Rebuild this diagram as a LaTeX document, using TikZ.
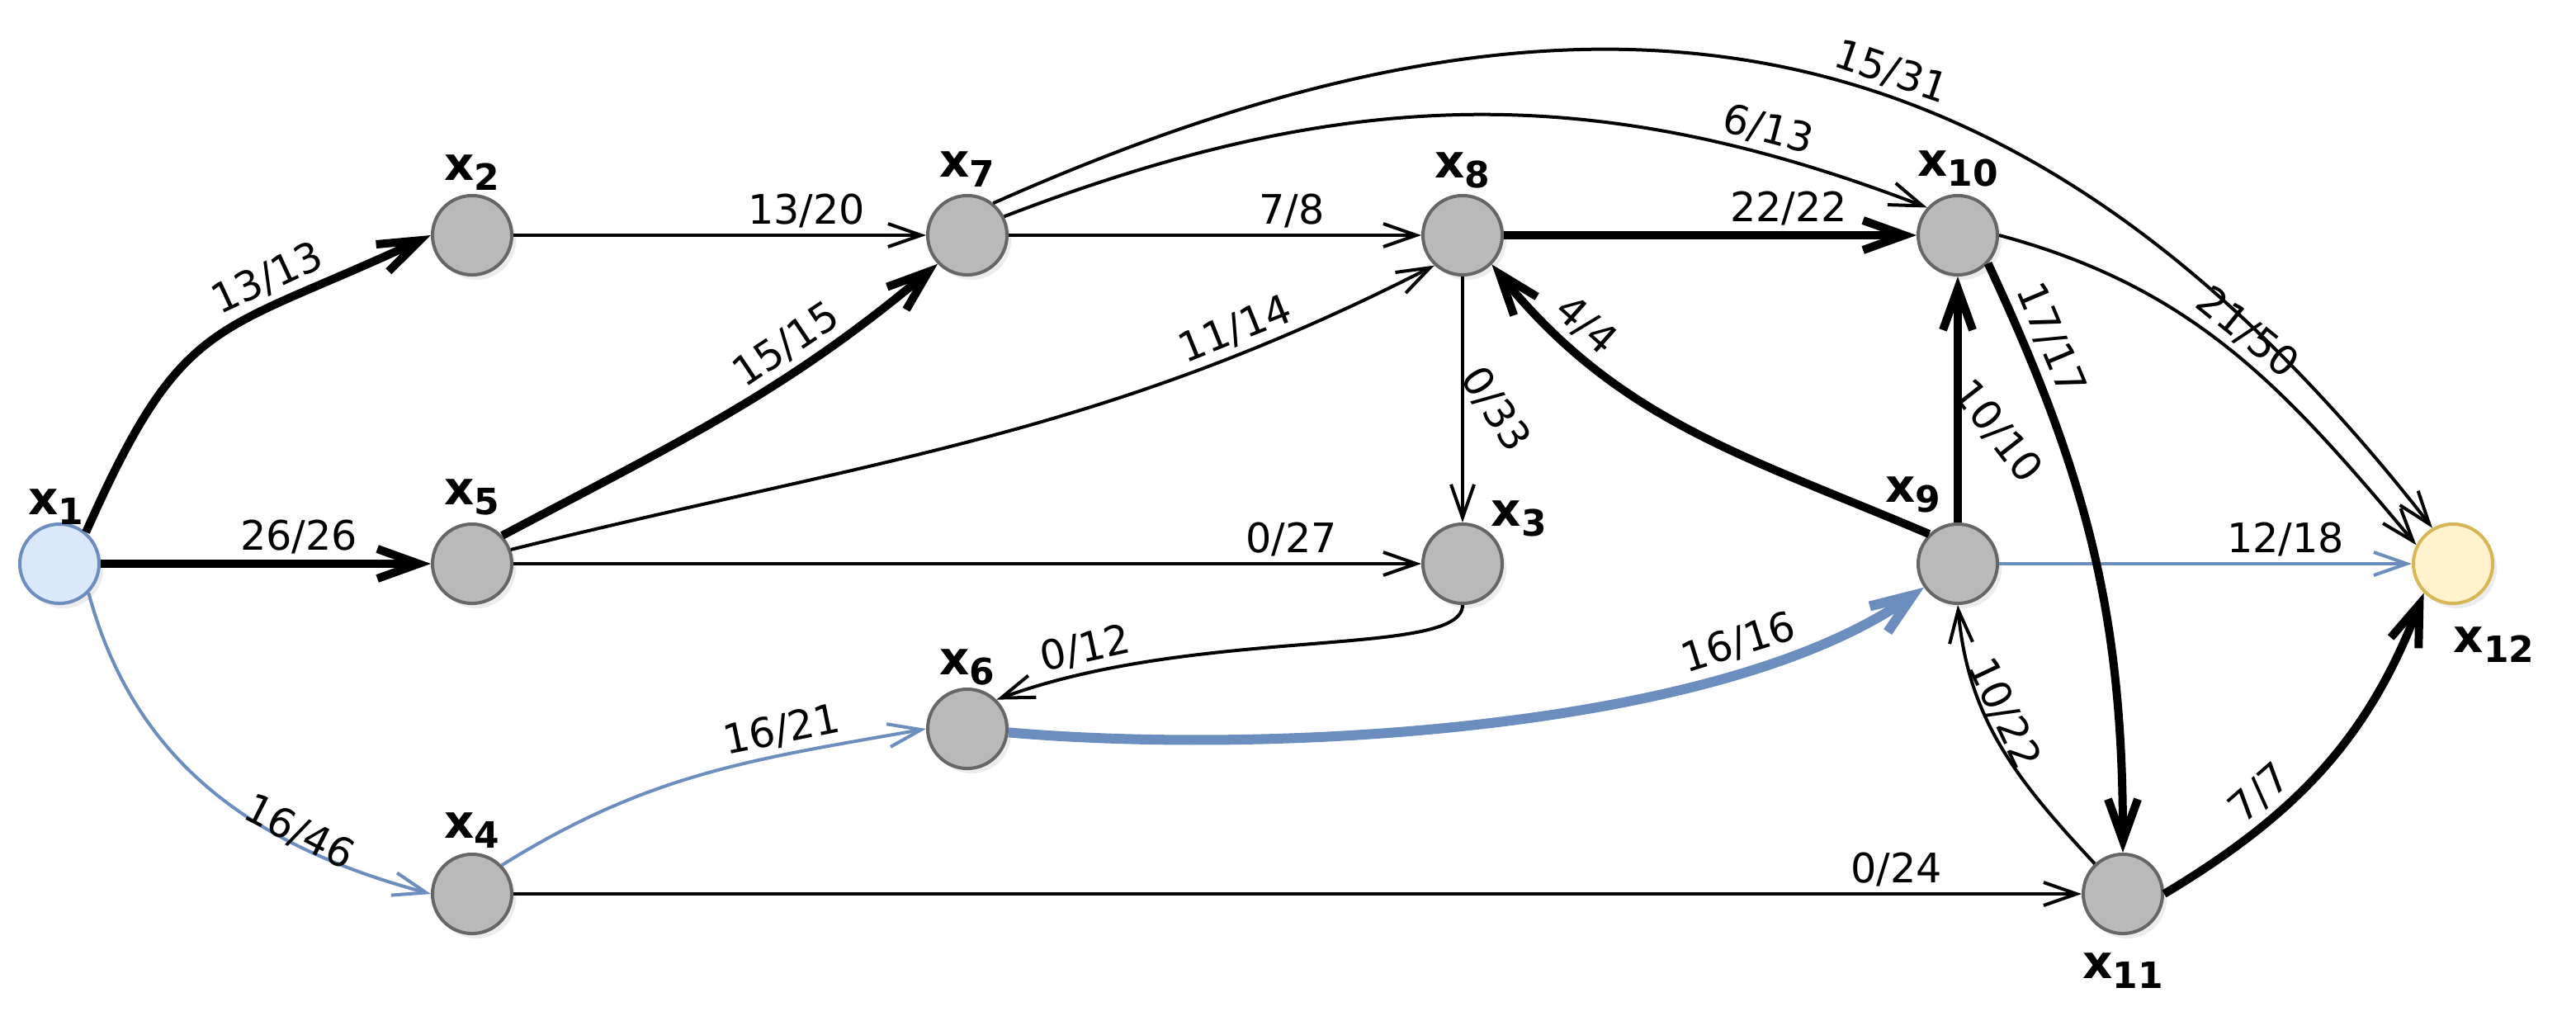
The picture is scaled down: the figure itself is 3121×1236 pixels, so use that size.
\documentclass[tikz,border=0pt]{standalone}
\usepackage{fontspec}
\setmainfont{DejaVu Sans}
\usetikzlibrary{arrows.meta,shadows}
\definecolor{ndfill}{RGB}{185,185,185}
\definecolor{nddraw}{RGB}{102,102,102}
\definecolor{srcfill}{RGB}{218,232,252}
\definecolor{srcdraw}{RGB}{108,142,191}
\definecolor{snkfill}{RGB}{255,242,204}
\definecolor{snkdraw}{RGB}{214,182,86}
\definecolor{flowblue}{RGB}{108,142,191}
\newcommand\xsub[1]{{\fontsize{16}{18}\selectfont\bfseries x}\raisebox{-0.12cm}{\fontsize{12.5}{14}\selectfont\bfseries #1}}
\begin{document}
\begin{tikzpicture}[x=0.01cm,y=0.01cm,
 nd/.style={circle,minimum size=0.96cm,inner sep=0pt,line width=0.04cm,draw=nddraw,fill=ndfill,
   drop shadow={shadow xshift=0.05cm,shadow yshift=-0.06cm,opacity=0.15}},
 src/.style={nd,draw=srcdraw,fill=srcfill},
 snk/.style={nd,draw=snkdraw,fill=snkfill},
 lbl/.style={inner sep=0pt},
 flowthin/.style={line width=0.04cm,-{Straight Barb[length=0.4cm,width=0.28cm]}},
 flowthick/.style={line width=0.1cm,-{Straight Barb[length=0.5cm,width=0.36cm]}},
 bluethin/.style={flowthin,draw=flowblue},
 bluethick/.style={line width=0.12cm,draw=flowblue,-{Straight Barb[length=0.5cm,width=0.38cm]}},
 el/.style={font=\fontsize{14}{16}\selectfont,inner sep=0.07cm,text=black}
]
\path[use as bounding box,fill=white] (0,0) rectangle (3121,-1236);

% nodes
\node[src] (x1) at (72,-683) {};
\node[nd] (x2) at (572,-285) {};
\node[nd] (x5) at (572,-683) {};
\node[nd] (x4) at (572,-1083) {};
\node[nd] (x7) at (1172,-285) {};
\node[nd] (x6) at (1172,-883) {};
\node[nd] (x8) at (1772,-285) {};
\node[nd] (x3) at (1772,-683) {};
\node[nd] (x10) at (2372,-285) {};
\node[nd] (x9) at (2372,-683) {};
\node[nd] (x11) at (2572,-1083) {};
\node[snk] (x12) at (2972,-683) {};

% node labels
\node[lbl,anchor=south] (t1) at ([xshift=-0.04cm,yshift=-0.03cm]x1.north) {\xsub{1}};
\node[lbl,anchor=south] (t2) at ([yshift=0.04cm]x2.north) {\xsub{2}};
\node[lbl,anchor=south] (t5) at ([yshift=0.08cm]x5.north) {\xsub{5}};
\node[lbl,anchor=south] (t4) at ([yshift=0.05cm]x4.north) {\xsub{4}};
\node[lbl,anchor=south] (t7) at ([yshift=0.08cm]x7.north) {\xsub{7}};
\node[lbl,anchor=south] (t6) at ([yshift=0.02cm]x6.north) {\xsub{6}};
\node[lbl,anchor=south] (t8) at ([yshift=0.06cm]x8.north) {\xsub{8}};
\node[lbl,anchor=south] (t10) at ([yshift=0.08cm]x10.north) {\xsub{10}};
\node[lbl,anchor=south west] (t3) at ([shift={(34,32)}]x3.center) {\xsub{3}};
\node[lbl,anchor=south east] (t9) at ([shift={(-20,61)}]x9.center) {\xsub{9}};
\node[lbl,anchor=north] (t11) at ([yshift=-0.21cm]x11.south) {\xsub{11}};
\node[lbl,anchor=north west] (t12) at ([shift={(0,-76)}]x12.center) {\xsub{12}};

% edges
\draw[flowthick] (x1.50) to[out=66,in=205,looseness=1.35] node[el,pos=0.7,sloped,above]{13/13} (x2.180);
\draw[flowthick] (x1) -- node[el,pos=0.6,above]{26/26} (x5);
\draw[bluethin] (x1.-45) to[out=-75,in=165] node[el,pos=0.71,sloped,above=-0.15cm]{16/46} (x4.180);
\draw[flowthin] (x2) -- node[el,pos=0.71,above]{13/20} (x7);
\draw[flowthick] (x5.43) to[out=28,in=220] node[el,pos=0.68,sloped,above]{15/15} (x7.224);
\draw[flowthin] (x5.20) to[out=14,in=207] node[el,pos=0.8,sloped,above]{11/14} (x8.227);
\draw[flowthin] (x5) -- node[el,pos=0.857,above]{0/27} (x3);
\draw[bluethin] (x4.44) to[out=32,in=190] node[el,pos=0.7,sloped,above]{16/21} (x6.180);
\draw[flowthin] (x4) -- node[el,pos=0.882,above]{0/24} (x11);
\draw[flowthin] (x7) -- node[el,pos=0.686,above]{7/8} (x8);
\draw[flowthin] (x7.27) to[out=21,in=159] node[el,pos=0.83,sloped,above]{6/13} (x10.138);
\draw[flowthin] (x7.51) to[out=24,in=128,looseness=1.15] node[el,pos=0.57,sloped,above]{15/31} (x12.120);
\draw[flowthick] (x8) -- node[el,pos=0.69,above]{22/22} (x10);
\draw[flowthin] (x8) -- node[el,pos=0.54,xshift=0.4cm,rotate=-57]{0/33} (x3);
\draw[flowthin] (x3.south) .. controls +(0,-65) and +(245,90) .. node[el,pos=0.85,sloped,above]{0/12} (x6.45);
\draw[bluethick] (x6) to[out=-5,in=215,looseness=0.7] node[el,pos=0.77,sloped,above]{16/16} (x9);
\draw[flowthick] (x9.134) to[out=157,in=309] node[el,pos=0.8,sloped,above]{4/4} (x8.-45);
\draw[flowthick] (x9) -- node[el,pos=0.37,xshift=0.48cm,rotate=-52]{10/10} (x10);
\draw[bluethin] (x9) -- node[el,pos=0.694,above]{12/18} (x12);
\draw[flowthin] (x10.east) to[out=-15,in=130] node[el,pos=0.5,sloped,above]{21/50} (x12.153);
\draw[flowthick] (x10.-43) to[out=-65,in=90] node[el,pos=0.14,sloped,above]{17/17} (x11.north);
\draw[flowthin] (x11.133) to[out=133,in=-85] node[el,pos=0.6,sloped,above=-0.08cm]{10/22} (x9.south);
\draw[flowthick] (x11.east) to[out=31,in=249] node[el,pos=0.33,sloped,above]{7/7} (x12.225);
\end{tikzpicture}
\end{document}
